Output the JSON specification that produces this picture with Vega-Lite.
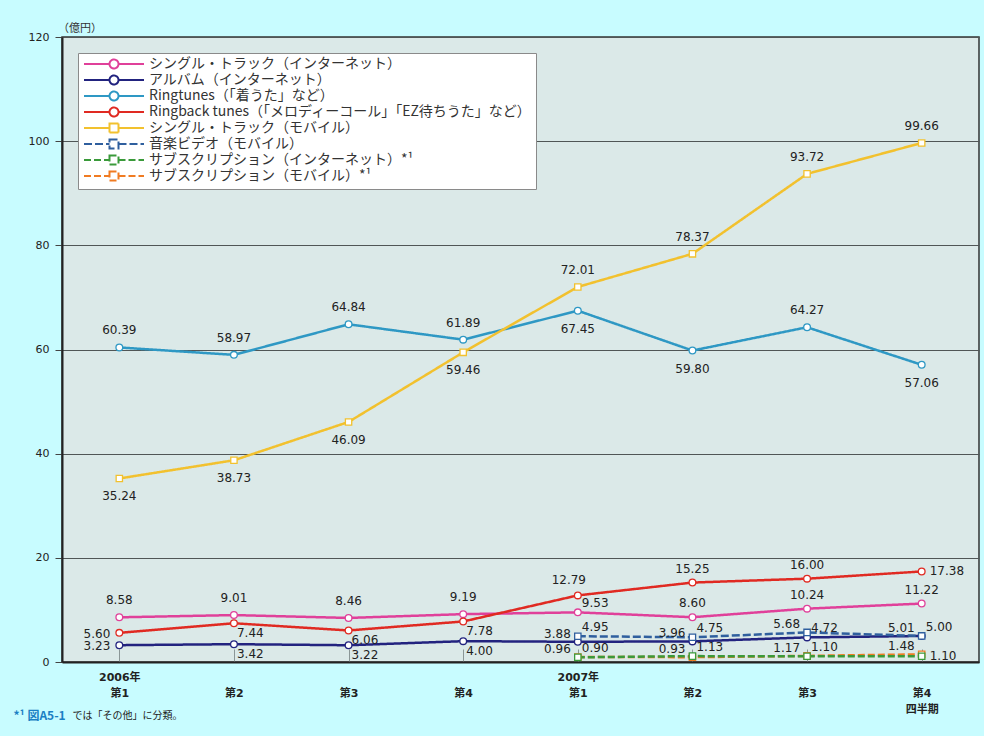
{
  "$schema": "https://vega.github.io/schema/vega-lite/v6.json",
  "width": 917,
  "height": 625,
  "autosize": {"type": "none"},
  "padding": {"left": 62, "top": 37, "right": 5, "bottom": 74},
  "background": "#c8fcff",
  "title": {
    "text": "（億円）",
    "orient": "top",
    "anchor": "start",
    "frame": "group",
    "offset": -3,
    "dx": -4,
    "font": "Noto Sans CJK JP",
    "fontSize": 11,
    "fontWeight": "normal",
    "color": "#333333"
  },
  "config": {
    "view": {"fill": "#dbe9e8", "stroke": "#333333", "strokeWidth": 1.5}
  },
  "data": {
    "values": [
      {"series": "シングル・トラック（インターネット）", "id": "si", "q": 0, "value": 8.58},
      {"series": "シングル・トラック（インターネット）", "id": "si", "q": 1, "value": 9.01},
      {"series": "シングル・トラック（インターネット）", "id": "si", "q": 2, "value": 8.46},
      {"series": "シングル・トラック（インターネット）", "id": "si", "q": 3, "value": 9.19},
      {"series": "シングル・トラック（インターネット）", "id": "si", "q": 4, "value": 9.53},
      {"series": "シングル・トラック（インターネット）", "id": "si", "q": 5, "value": 8.60},
      {"series": "シングル・トラック（インターネット）", "id": "si", "q": 6, "value": 10.24},
      {"series": "シングル・トラック（インターネット）", "id": "si", "q": 7, "value": 11.22},
      {"series": "アルバム（インターネット）", "id": "al", "q": 0, "value": 3.23},
      {"series": "アルバム（インターネット）", "id": "al", "q": 1, "value": 3.42},
      {"series": "アルバム（インターネット）", "id": "al", "q": 2, "value": 3.22},
      {"series": "アルバム（インターネット）", "id": "al", "q": 3, "value": 4.00},
      {"series": "アルバム（インターネット）", "id": "al", "q": 4, "value": 3.88},
      {"series": "アルバム（インターネット）", "id": "al", "q": 5, "value": 3.96},
      {"series": "アルバム（インターネット）", "id": "al", "q": 6, "value": 4.72},
      {"series": "アルバム（インターネット）", "id": "al", "q": 7, "value": 5.00},
      {"series": "Ringtunes（「着うた」など）", "id": "rt", "q": 0, "value": 60.39},
      {"series": "Ringtunes（「着うた」など）", "id": "rt", "q": 1, "value": 58.97},
      {"series": "Ringtunes（「着うた」など）", "id": "rt", "q": 2, "value": 64.84},
      {"series": "Ringtunes（「着うた」など）", "id": "rt", "q": 3, "value": 61.89},
      {"series": "Ringtunes（「着うた」など）", "id": "rt", "q": 4, "value": 67.45},
      {"series": "Ringtunes（「着うた」など）", "id": "rt", "q": 5, "value": 59.80},
      {"series": "Ringtunes（「着うた」など）", "id": "rt", "q": 6, "value": 64.27},
      {"series": "Ringtunes（「着うた」など）", "id": "rt", "q": 7, "value": 57.06},
      {"series": "Ringback tunes（「メロディーコール」「EZ待ちうた」など）", "id": "rb", "q": 0, "value": 5.60},
      {"series": "Ringback tunes（「メロディーコール」「EZ待ちうた」など）", "id": "rb", "q": 1, "value": 7.44},
      {"series": "Ringback tunes（「メロディーコール」「EZ待ちうた」など）", "id": "rb", "q": 2, "value": 6.06},
      {"series": "Ringback tunes（「メロディーコール」「EZ待ちうた」など）", "id": "rb", "q": 3, "value": 7.78},
      {"series": "Ringback tunes（「メロディーコール」「EZ待ちうた」など）", "id": "rb", "q": 4, "value": 12.79},
      {"series": "Ringback tunes（「メロディーコール」「EZ待ちうた」など）", "id": "rb", "q": 5, "value": 15.25},
      {"series": "Ringback tunes（「メロディーコール」「EZ待ちうた」など）", "id": "rb", "q": 6, "value": 16.00},
      {"series": "Ringback tunes（「メロディーコール」「EZ待ちうた」など）", "id": "rb", "q": 7, "value": 17.38},
      {"series": "シングル・トラック（モバイル）", "id": "sm", "q": 0, "value": 35.24},
      {"series": "シングル・トラック（モバイル）", "id": "sm", "q": 1, "value": 38.73},
      {"series": "シングル・トラック（モバイル）", "id": "sm", "q": 2, "value": 46.09},
      {"series": "シングル・トラック（モバイル）", "id": "sm", "q": 3, "value": 59.46},
      {"series": "シングル・トラック（モバイル）", "id": "sm", "q": 4, "value": 72.01},
      {"series": "シングル・トラック（モバイル）", "id": "sm", "q": 5, "value": 78.37},
      {"series": "シングル・トラック（モバイル）", "id": "sm", "q": 6, "value": 93.72},
      {"series": "シングル・トラック（モバイル）", "id": "sm", "q": 7, "value": 99.66},
      {"series": "音楽ビデオ（モバイル）", "id": "mv", "q": 4, "value": 4.95},
      {"series": "音楽ビデオ（モバイル）", "id": "mv", "q": 5, "value": 4.75},
      {"series": "音楽ビデオ（モバイル）", "id": "mv", "q": 6, "value": 5.68},
      {"series": "音楽ビデオ（モバイル）", "id": "mv", "q": 7, "value": 5.01},
      {"series": "サブスクリプション（モバイル）*¹", "id": "ssm", "q": 4, "value": 0.96},
      {"series": "サブスクリプション（モバイル）*¹", "id": "ssm", "q": 5, "value": 0.93},
      {"series": "サブスクリプション（モバイル）*¹", "id": "ssm", "q": 6, "value": 1.17},
      {"series": "サブスクリプション（モバイル）*¹", "id": "ssm", "q": 7, "value": 1.48},
      {"series": "サブスクリプション（インターネット）*¹", "id": "ssi", "q": 4, "value": 0.90},
      {"series": "サブスクリプション（インターネット）*¹", "id": "ssi", "q": 5, "value": 1.13},
      {"series": "サブスクリプション（インターネット）*¹", "id": "ssi", "q": 6, "value": 1.10},
      {"series": "サブスクリプション（インターネット）*¹", "id": "ssi", "q": 7, "value": 1.10}
    ]
  },
  "encoding": {
    "x": {
      "field": "q",
      "type": "quantitative",
      "scale": {"domain": [-0.5, 7.5], "nice": false, "zero": false},
      "axis": {
        "values": [0, 1, 2, 3, 4, 5, 6, 7],
        "labelExpr": "[['2006年','第1'],['','第2'],['','第3'],['','第4'],['2007年','第1'],['','第2'],['','第3'],['','第4','四半期']][datum.value]",
        "grid": false,
        "domainColor": "#222222",
        "domainWidth": 2,
        "tickSize": -13,
        "tickColor": "#8a9696",
        "tickWidth": 1,
        "labelPadding": 22,
        "labelFont": "DejaVu Sans, Noto Sans CJK JP",
        "labelFontSize": 11,
        "labelFontWeight": "bold",
        "labelColor": "#222222",
        "labelLineHeight": 16,
        "labelBaseline": "top",
        "title": "では「その他」に分類。",
        "titleX": 10,
        "titleY": 53,
        "titleAngle": 0,
        "titleAlign": "left",
        "titleBaseline": "middle",
        "titleFont": "Noto Sans CJK JP",
        "titleFontSize": 10,
        "titleFontWeight": "normal",
        "titleColor": "#222222"
      }
    },
    "y": {
      "field": "value",
      "type": "quantitative",
      "scale": {"domain": [0, 120], "nice": false},
      "axis": {
        "values": [0, 20, 40, 60, 80, 100, 120],
        "grid": true,
        "gridColor": "#505656",
        "gridWidth": 1,
        "domainColor": "#222222",
        "domainWidth": 2,
        "tickSize": 7,
        "tickColor": "#444444",
        "labelPadding": 6,
        "labelFont": "DejaVu Sans",
        "labelFontSize": 11,
        "labelColor": "#222222",
        "title": "*¹  図A5-1",
        "titleX": -49,
        "titleY": 678,
        "titleAngle": 0,
        "titleAlign": "left",
        "titleBaseline": "middle",
        "titleFont": "Noto Sans CJK JP",
        "titleFontSize": 12,
        "titleFontWeight": "bold",
        "titleColor": "#1a80c4"
      }
    }
  },
  "layer": [
    {
      "mark": {"type": "line", "strokeWidth": 2.5},
      "encoding": {
        "stroke": {
          "field": "series",
          "type": "nominal",
          "scale": {
            "domain": [
              "シングル・トラック（インターネット）",
              "アルバム（インターネット）",
              "Ringtunes（「着うた」など）",
              "Ringback tunes（「メロディーコール」「EZ待ちうた」など）",
              "シングル・トラック（モバイル）",
              "音楽ビデオ（モバイル）",
              "サブスクリプション（インターネット）*¹",
              "サブスクリプション（モバイル）*¹"
            ],
            "range": ["#e0409a", "#22237f", "#2e98c4", "#e02a22", "#f2c12e", "#2f5f9e", "#3a9a3a", "#f07b22"]
          },
          "legend": {
            "title": null,
            "orient": "top-left",
            "offset": 16,
            "direction": "vertical",
            "columns": 1,
            "fillColor": "white",
            "strokeColor": "#8a8a8a",
            "padding": 4,
            "rowPadding": -5,
            "symbolSize": 100,
            "symbolStrokeWidth": 2,
            "symbolFillColor": "white",
            "symbolType": "M-1,0H4.1M5.9,0H11M4.1,0A0.9,0.9,0,1,1,5.9,0A0.9,0.9,0,1,1,4.1,0Z",
            "labelOffset": 53,
            "labelLimit": 600,
            "labelFont": "Noto Sans CJK JP",
            "labelFontSize": 14,
            "labelColor": "#333333",
            "encode": {
              "symbols": {
                "update": {
                  "shape": {"signal": "datum.index < 4 ? 'M-1,0H4.1M5.9,0H11M4.1,0A0.9,0.9,0,1,1,5.9,0A0.9,0.9,0,1,1,4.1,0Z' : 'M-1,0H4.1M5.9,0H11M4.1,-0.9H5.9V0.9H4.1Z'"},
                  "fill": {"value": "white"}
                }
              }
            }
          }
        },
        "strokeDash": {
          "field": "series",
          "type": "nominal",
          "scale": {
            "domain": [
              "シングル・トラック（インターネット）",
              "アルバム（インターネット）",
              "Ringtunes（「着うた」など）",
              "Ringback tunes（「メロディーコール」「EZ待ちうた」など）",
              "シングル・トラック（モバイル）",
              "音楽ビデオ（モバイル）",
              "サブスクリプション（インターネット）*¹",
              "サブスクリプション（モバイル）*¹"
            ],
            "range": [[1, 0], [1, 0], [1, 0], [1, 0], [1, 0], [8, 3], [7, 3], [7, 3]]
          },
          "legend": null
        }
      }
    },
    {
      "transform": [{"filter": "datum.id === 'si' || datum.id === 'al' || datum.id === 'rt' || datum.id === 'rb'"}],
      "mark": {"type": "point", "shape": "circle", "filled": true, "fill": "white", "size": 45, "strokeWidth": 1.3, "opacity": 1},
      "encoding": {
        "stroke": {"field": "series", "type": "nominal", "legend": null}
      }
    },
    {
      "transform": [{"filter": "datum.id === 'sm' || datum.id === 'mv' || datum.id === 'ssi' || datum.id === 'ssm'"}],
      "mark": {"type": "point", "shape": "square", "filled": true, "fill": "white", "size": 40, "strokeWidth": 1.3, "opacity": 1},
      "encoding": {
        "stroke": {"field": "series", "type": "nominal", "legend": null}
      }
    },
    {
      "transform": [{"filter": "(datum.id === 'rt' && (datum.q <= 3 || datum.q === 6)) || (datum.id === 'sm' && datum.q >= 4) || (datum.id === 'si' && datum.q <= 3)"}],
      "mark": {"type": "text", "font": "DejaVu Sans", "fontSize": 12, "fill": "#222222", "align": "center", "baseline": "middle", "dy": -17},
      "encoding": {"text": {"field": "value", "type": "quantitative", "format": ".2f"}}
    },
    {
      "transform": [{"filter": "(datum.id === 'rb' && (datum.q === 5 || datum.q === 6)) || (datum.id === 'si' && datum.q >= 5)"}],
      "mark": {"type": "text", "font": "DejaVu Sans", "fontSize": 12, "fill": "#222222", "align": "center", "baseline": "middle", "dy": -14},
      "encoding": {"text": {"field": "value", "type": "quantitative", "format": ".2f"}}
    },
    {
      "transform": [{"filter": "datum.id === 'rb' && datum.q === 4"}],
      "mark": {"type": "text", "font": "DejaVu Sans", "fontSize": 12, "fill": "#222222", "align": "center", "baseline": "middle", "dx": -9, "dy": -15},
      "encoding": {"text": {"field": "value", "type": "quantitative", "format": ".2f"}}
    },
    {
      "transform": [{"filter": "(datum.id === 'sm' && datum.q <= 3) || (datum.id === 'rt' && (datum.q === 4 || datum.q === 5 || datum.q === 7))"}],
      "mark": {"type": "text", "font": "DejaVu Sans", "fontSize": 12, "fill": "#222222", "align": "center", "baseline": "middle", "dy": 18},
      "encoding": {"text": {"field": "value", "type": "quantitative", "format": ".2f"}}
    },
    {
      "transform": [{"filter": "(datum.id === 'rb' || datum.id === 'al') && datum.q === 0"}],
      "mark": {"type": "text", "font": "DejaVu Sans", "fontSize": 12, "fill": "#222222", "align": "right", "baseline": "middle", "dx": -9, "dy": 1},
      "encoding": {"text": {"field": "value", "type": "quantitative", "format": ".2f"}}
    },
    {
      "transform": [{"filter": "(datum.id === 'al' && (datum.q === 4 || datum.q === 5)) || (datum.id === 'mv' && datum.q >= 6) || datum.id === 'ssm'"}],
      "mark": {"type": "text", "font": "DejaVu Sans", "fontSize": 12, "fill": "#222222", "align": "right", "baseline": "middle", "dx": -7, "dy": -8},
      "encoding": {"text": {"field": "value", "type": "quantitative", "format": ".2f"}}
    },
    {
      "transform": [{"filter": "(datum.id === 'si' && datum.q === 4) || (datum.id === 'mv' && datum.q <= 5) || (datum.id === 'al' && datum.q >= 6) || (datum.id === 'ssi' && datum.q <= 6)"}],
      "mark": {"type": "text", "font": "DejaVu Sans", "fontSize": 12, "fill": "#222222", "align": "left", "baseline": "middle", "dx": 4, "dy": -9},
      "encoding": {"text": {"field": "value", "type": "quantitative", "format": ".2f"}}
    },
    {
      "transform": [{"filter": "(datum.id === 'rb' || datum.id === 'al') && datum.q >= 1 && datum.q <= 3"}],
      "mark": {"type": "text", "font": "DejaVu Sans", "fontSize": 12, "fill": "#222222", "align": "left", "baseline": "middle", "dx": 3, "dy": 10},
      "encoding": {"text": {"field": "value", "type": "quantitative", "format": ".2f"}}
    },
    {
      "transform": [{"filter": "(datum.id === 'rb' || datum.id === 'ssi') && datum.q === 7"}],
      "mark": {"type": "text", "font": "DejaVu Sans", "fontSize": 12, "fill": "#222222", "align": "left", "baseline": "middle", "dx": 8},
      "encoding": {"text": {"field": "value", "type": "quantitative", "format": ".2f"}}
    }
  ]
}
